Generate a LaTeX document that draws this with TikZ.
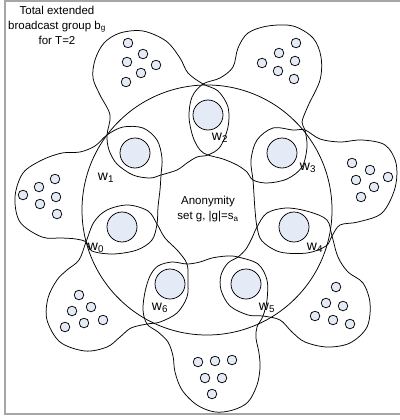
\documentclass[tikz,border=0pt]{standalone}
\usepackage{fontspec}
\setmainfont{Liberation Sans}
\definecolor{dotblue}{RGB}{228,235,247}
\begin{document}
\begin{tikzpicture}[x=1pt,y=-1pt,line width=0.75pt,
  region/.style={smooth cycle,tension=0.55},
  txt/.style={font=\fontsize{11.5}{15}\selectfont,align=center,inner sep=0pt},
  wlab/.style={font=\fontsize{14}{15}\selectfont,inner sep=0pt}]
\useasboundingbox (0,0) rectangle (399,420);
\draw[gray!70,line width=1.6pt] (5,1) rectangle (402,414);
% anonymity set
\draw (207,210) circle[radius=125];
% extended groups
\draw plot[region] coordinates {(86,242) (92,251) (113,254) (137,250) (152,240) (157,224) (158,207) (160,190) (161,175) (162,158) (157,140) (143,128) (123,127) (107,135) (95,146) (80,152) (62,153) (42,160) (23,173) (15,197) (20,222) (42,237) (62,238) (76,239)};
\draw plot[region] coordinates {(107,135) (109,150) (117,164) (133,175) (150,178) (161,175) (177,170) (187,163) (197,157) (208,155) (220,147) (228,127) (228,107) (218,91) (203,84) (188,73) (180,58) (166,41) (143,31) (120,33) (104,43) (95,60) (93,78) (100,95) (110,115)};
\draw plot[region] coordinates {(203,84) (192,97) (189,117) (193,137) (200,150) (208,155) (223,159) (237,165) (247,172) (253,180) (267,183) (287,179) (302,167) (307,147) (305,130) (302,122) (308,106) (320,80) (321,57) (313,38) (293,26) (268,26) (248,33) (238,48) (233,67) (220,78)};
\draw plot[region] coordinates {(305,130) (293,130) (273,128) (257,140) (251,160) (253,180) (254,195) (255,210) (257,227) (262,241) (280,252) (307,253) (326,246) (332,236) (340,225) (358,222) (382,213) (395,188) (396,163) (385,145) (362,140) (340,142) (320,139)};
\draw plot[region] coordinates {(332,236) (327,220) (310,212) (287,208) (267,213) (257,227) (252,238) (246,249) (238,257) (228,263) (221,275) (221,290) (230,306) (248,315) (263,316) (280,320) (292,332) (305,342) (327,347) (350,343) (367,327) (370,303) (363,283) (348,272) (338,257)};
\draw plot[region] coordinates {(263,316) (267,300) (267,280) (258,264) (238,257) (227,256) (212,258) (200,262) (187,264) (172,262) (158,266) (150,276) (145,292) (143,310) (147,324) (158,332) (168,342) (173,356) (175,372) (182,390) (197,405) (215,412) (233,410) (248,402) (257,385) (260,368) (259,353) (256,338) (257,327)};
\draw plot[region] coordinates {(147,324) (160,322) (177,313) (187,297) (188,280) (187,264) (178,251) (165,238) (157,224) (148,211) (128,205) (107,210) (94,222) (86,242) (79,260) (67,270) (57,280) (48,298) (47,320) (60,342) (85,351) (107,347) (120,337) (131,328)};
% inner circles
\foreach \p in {(122,227),(135,153),(208,115),(282,153),(294,227),(246,284),(170,284)}
  \filldraw[fill=dotblue] \p circle[radius=15];
% dots
\foreach \p in {(128,43),(143,54),(127,62),(156,65),(141,73),(126,82),
  (296,43),(279,53),(295,61),(262,63),(278,71),(294,79),
  (352,163),(370,170),(388,177),(356,180),(374,187),(361,197),
  (336,287),(326,303),(343,306),(315,316),(333,320),(350,324),
  (198,362),(215,361),(232,360),(205,378),(222,378),(212,394),
  (79,295),(91,307),(72,311),(103,320),(84,323),(65,327),
  (55,179),(39,187),(23,195),(56,197),(40,204),(57,214)}
  \filldraw[fill=dotblue] \p circle[radius=4.8];
% texts
\node[txt] (title) at (57,25) {Total extended\\broadcast group b\textsubscript{g}\\for T=2};
\node[txt] (anon) at (208,209) {Anonymity\\set g, |g|=s\textsubscript{a}};
\node[wlab] (l0) at (96,248) {w\textsubscript{0}};
\node[wlab] (l1) at (106,178) {w\textsubscript{1}};
\node[wlab] (l2) at (220,138) {w\textsubscript{2}};
\node[wlab] (l3) at (308,168) {w\textsubscript{3}};
\node[wlab] (l4) at (315,248) {w\textsubscript{4}};
\node[wlab] (l5) at (267,308) {w\textsubscript{5}};
\node[wlab] (l6) at (160,308) {w\textsubscript{6}};
\end{tikzpicture}
\end{document}
